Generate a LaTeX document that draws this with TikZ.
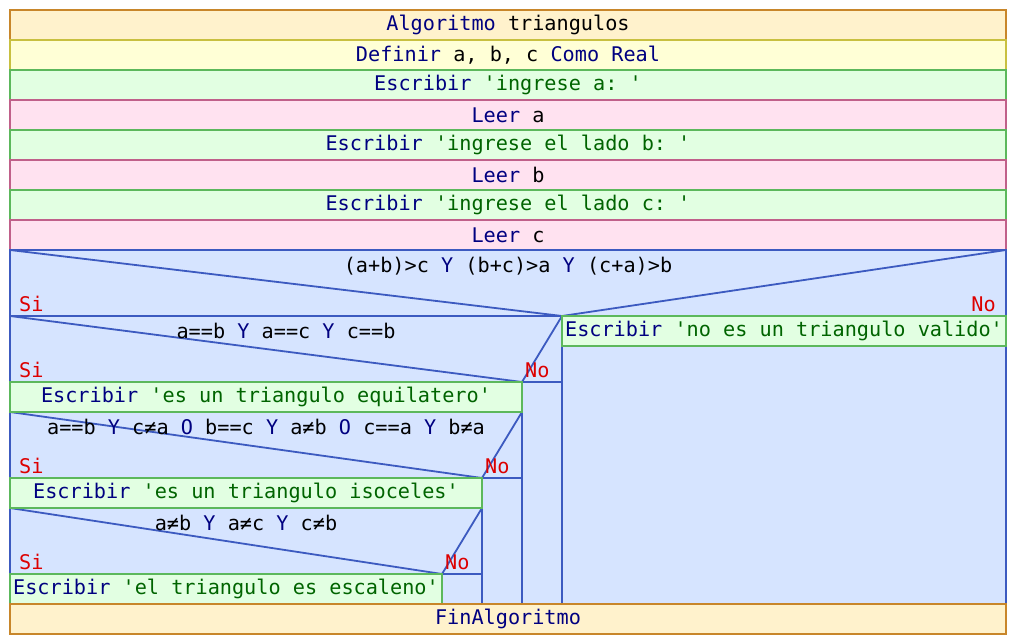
\documentclass[tikz,border=0pt]{standalone}
\usepackage{fontspec}
\setmonofont{DejaVu Sans Mono}
\definecolor{kw}{HTML}{000080}
\definecolor{str}{HTML}{006400}
\definecolor{lbl}{HTML}{DD0000}
\definecolor{algF}{HTML}{FFF2CC}
\definecolor{algD}{HTML}{C8862A}
\definecolor{defF}{HTML}{FFFFD6}
\definecolor{defD}{HTML}{C8C040}
\definecolor{escF}{HTML}{E2FFE2}
\definecolor{escD}{HTML}{5CB85C}
\definecolor{leeF}{HTML}{FFE2F0}
\definecolor{leeD}{HTML}{C0608A}
\definecolor{decF}{HTML}{D6E4FF}
\definecolor{decD}{HTML}{3C5AC0}
\newcommand{\kw}[1]{\textcolor{kw}{#1}}
\newcommand{\st}[1]{\textcolor{str}{#1}}
\tikzset{
  txt/.style={font=\ttfamily\fontsize{20.2}{24}\selectfont, text=black, inner sep=0pt},
  row/.style={txt, draw, line width=1.8pt, minimum height=30pt, minimum width=#1, anchor=center},
  algrow/.style={row=#1, fill=algF, draw=algD},
  defrow/.style={row=#1, fill=defF, draw=defD},
  escrow/.style={row=#1, fill=escF, draw=escD},
  leerow/.style={row=#1, fill=leeF, draw=leeD},
  decline/.style={draw=decD, line width=1.8pt},
  lab/.style={txt, text=lbl},
}
\begin{document}
\begin{tikzpicture}[x=1pt,y=-1pt]
\useasboundingbox (0,0) rectangle (1016,644);
% sequential rows
\node[algrow=996pt] (alg) at (508,25) {\kw{Algoritmo} triangulos};
\node[defrow=996pt] (def) at (508,55) {\kw{Definir} a, b, c \kw{Como Real}};
\node[escrow=996pt] (e1) at (508,85) {\kw{Escribir} \st{'ingrese a: '}};
\node[leerow=996pt] (l1) at (508,115) {\kw{Leer} a};
\node[escrow=996pt] (e2) at (508,145) {\kw{Escribir} \st{'ingrese el lado b: '}};
\node[leerow=996pt] (l2) at (508,175) {\kw{Leer} b};
\node[escrow=996pt] (e3) at (508,205) {\kw{Escribir} \st{'ingrese el lado c: '}};
\node[leerow=996pt] (l3) at (508,235) {\kw{Leer} c};
% decision area
\fill[decF] (10,250) rectangle (1006,604);
% decision 1
\draw[decline] (10,250) -- (562,316) -- (1006,250);
\draw[decline] (10,316) -- (1006,316);
\draw[decline] (562,316) -- (562,604);
% decision 2
\draw[decline] (10,316) -- (522,382) -- (562,316);
\draw[decline] (10,382) -- (562,382);
\draw[decline] (522,382) -- (522,604);
% decision 3
\draw[decline] (10,412) -- (482,478) -- (522,412);
\draw[decline] (10,478) -- (522,478);
\draw[decline] (482,478) -- (482,604);
% decision 4
\draw[decline] (10,508) -- (442,574) -- (482,508);
\draw[decline] (10,574) -- (482,574);
\draw[decline] (442,574) -- (442,604);
\draw[decline] (10,250) rectangle (1006,604);
% conditions
\node[txt] (c1) at (508,266) {(a+b)>c \kw{Y} (b+c)>a \kw{Y} (c+a)>b};
\node[txt] (c2) at (286,331) {a==b \kw{Y} a==c \kw{Y} c==b};
\node[txt] (c3) at (266,427) {a==b \kw{Y} c≠a \kw{O} b==c \kw{Y} a≠b \kw{O} c==a \kw{Y} b≠a};
\node[txt] (c4) at (246,523) {a≠b \kw{Y} a≠c \kw{Y} c≠b};
% labels
\node[lab, anchor=base west] (s1) at (19,311) {Si};
\node[lab, anchor=base east] (n1) at (996,311) {No};
\node[lab, anchor=base west] (s2) at (19,377) {Si};
\node[lab, anchor=base west] (n2) at (525,377) {No};
\node[lab, anchor=base west] (s3) at (19,473) {Si};
\node[lab, anchor=base west] (n3) at (485,473) {No};
\node[lab, anchor=base west] (s4) at (19,569) {Si};
\node[lab, anchor=base west] (n4) at (445,569) {No};
% branch statements
\node[escrow=444pt] (ne) at (784,331) {\kw{Escribir} \st{'no es un triangulo valido'}};
\node[escrow=512pt] (eq) at (266,397) {\kw{Escribir} \st{'es un triangulo equilatero'}};
\node[escrow=472pt] (is) at (246,493) {\kw{Escribir} \st{'es un triangulo isoceles'}};
\node[escrow=432pt] (es) at (226,589) {\kw{Escribir} \st{'el triangulo es escaleno'}};
% end
\node[algrow=996pt] (fin) at (508,619) {\kw{FinAlgoritmo}};
\end{tikzpicture}
\end{document}
